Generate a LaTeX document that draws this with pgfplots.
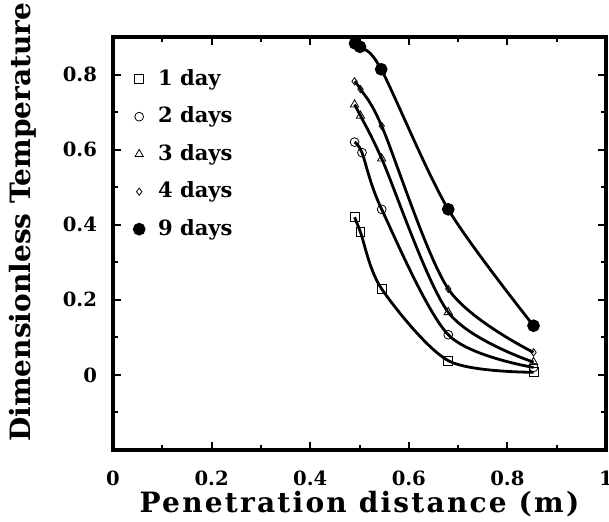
\documentclass[border=0pt]{standalone}
\usepackage{fontspec}
\setmainfont{DejaVu Serif}
\usepackage{pgfplots}
\pgfplotsset{compat=1.18}
\usepackage{pgfplotstable}

% temperature profiles
\pgfplotstableread{
x y
0.490 0.420
0.502 0.380
0.545 0.229
0.680 0.038
0.853 0.007
}\dayone
\pgfplotstableread{
x y
0.490 0.620
0.505 0.592
0.545 0.441
0.680 0.107
0.853 0.020
}\daytwo
\pgfplotstableread{
x y
0.490 0.720
0.502 0.690
0.545 0.576
0.680 0.167
0.853 0.034
}\daythree
\pgfplotstableread{
x y
0.490 0.782
0.502 0.761
0.545 0.663
0.680 0.229
0.853 0.060
}\dayfour
\pgfplotstableread{
x y
0.491 0.883
0.501 0.874
0.544 0.814
0.680 0.441
0.853 0.131
}\daynine

\begin{document}
\begin{tikzpicture}
\begin{axis}[
  name=ax,
  scale only axis,
  width=246.5pt, height=206.5pt,
  xmin=0, xmax=1, ymin=-0.2, ymax=0.9,
  xtick={0,0.2,0.4,0.6,0.8,1},
  xticklabels={0,0.2,0.4,0.6,0.8,1},
  ytick={0,0.2,0.4,0.6,0.8},
  yticklabels={0,0.2,0.4,0.6,0.8},
  minor xtick={0.1,0.3,0.5,0.7,0.9},
  minor ytick={-0.1,0.1,0.3,0.5,0.7},
  tick align=inside,
  major tick length=4pt, minor tick length=2.5pt,
  every tick/.style={black, line width=1pt},
  axis line style={line width=1.6pt},
  /pgf/number format/assume math mode=true,
  ticklabel style={font=\fontsize{9.8}{11}\selectfont\bfseries},
  xticklabel style={yshift=-7pt},
  yticklabel style={xshift=-4.5pt},
  xlabel={Penetration distance (m)},
  ylabel={Dimensionless Temperature},
  every axis x label/.style={at={(axis description cs:0.5,0)}, yshift=-27pt, anchor=center,
    font=\fontsize{14}{16}\selectfont\bfseries\addfontfeatures{LetterSpace=8}},
  every axis y label/.style={at={(axis description cs:0,0.552)}, xshift=-45pt, rotate=90, anchor=center,
    font=\fontsize{14}{16}\selectfont\bfseries},
  legend cell align=left,
  legend style={at={(rel axis cs:0.03,0.94)}, anchor=north west, draw=none, fill=none,
    font=\fontsize{10.5}{12}\selectfont\bfseries, row sep=5.75pt,
    nodes={inner sep=1pt, text height=8.5pt, text depth=2.5pt},
    /tikz/column 1/.style={column sep=6pt}},
  mark options={solid, line width=1.3pt},
]
% curves
\addplot[black, line width=1.4pt, smooth, no marks, forget plot] table {\dayone};
\addplot[black, line width=1.4pt, smooth, no marks, forget plot] table {\daytwo};
\addplot[black, line width=1.4pt, smooth, no marks, forget plot] table {\daythree};
\addplot[black, line width=1.4pt, smooth, no marks, forget plot] table {\dayfour};
\addplot[black, line width=1.4pt, smooth, no marks, forget plot] table {\daynine};
% markers
\addplot[black, only marks, mark=square, mark size=2.2pt, mark options={fill=white}] table {\dayone};
\addplot[black, only marks, mark=o, mark size=2.2pt, mark options={fill=white}] table {\daytwo};
\addplot[black, only marks, mark=triangle, mark size=2.4pt, mark options={fill=white}] table {\daythree};
\addplot[black, only marks, mark=diamond, mark size=1.8pt, mark options={fill=white}] table {\dayfour};
\addplot[black, only marks, mark=*, mark size=2.5pt] table {\daynine};
\legend{1 day, 2 days, 3 days, 4 days, 9 days}
\end{axis}
\pgfresetboundingbox
\path[use as bounding box] ([xshift=-56.5pt,yshift=-35.5pt]ax.south west) rectangle ([xshift=1.5pt,yshift=18.5pt]ax.north east);
\end{tikzpicture}
\end{document}
